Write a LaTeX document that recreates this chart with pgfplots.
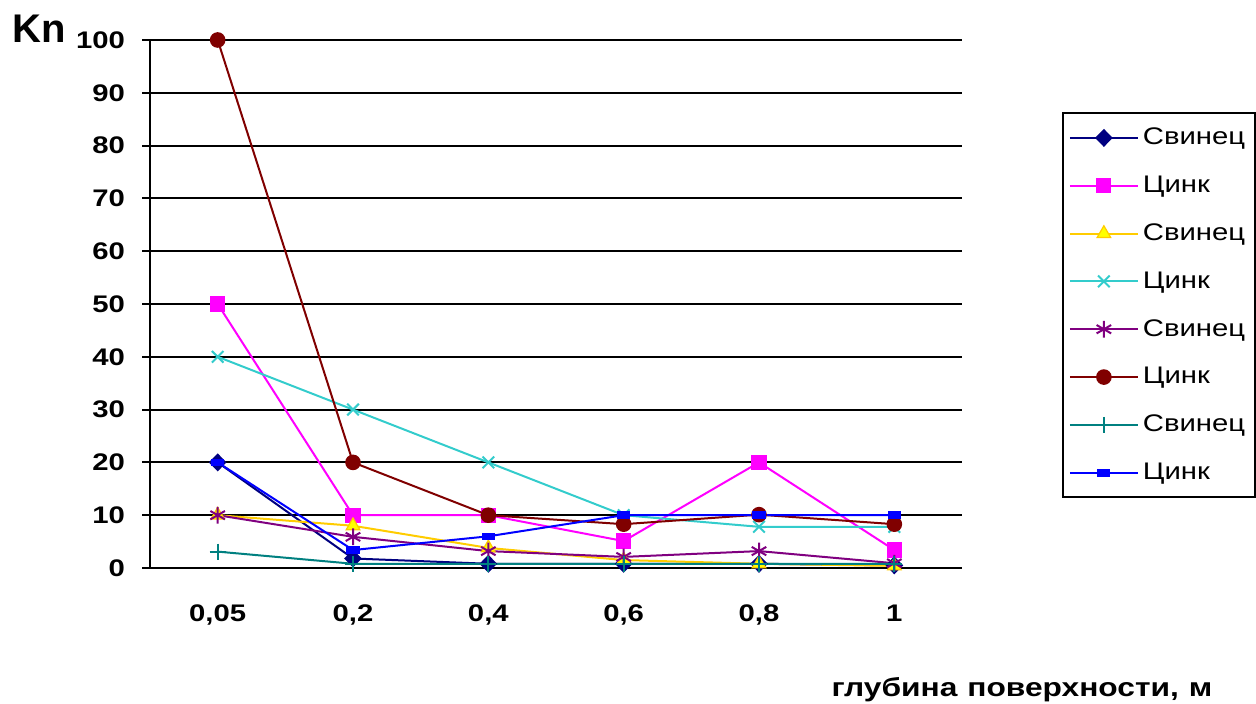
\documentclass[border=0pt]{standalone}
\usepackage{fontspec}
\setmainfont{Liberation Sans}
\newfontfamily\stretchfont[FakeStretch=1.22]{Liberation Sans}
\usepackage{pgfplots}
\pgfplotsset{compat=1.18}
\definecolor{cnavy}{RGB}{0,0,128}
\definecolor{cmag}{RGB}{255,0,255}
\definecolor{cgold}{RGB}{255,204,0}
\definecolor{cyel}{RGB}{255,255,0}
\definecolor{ccyan}{RGB}{51,204,204}
\definecolor{cpurp}{RGB}{128,0,128}
\definecolor{cdred}{RGB}{128,0,0}
\definecolor{cteal}{RGB}{0,128,128}
\definecolor{cblue}{RGB}{0,0,255}
\begin{document}
\begin{tikzpicture}
\useasboundingbox (0,0) rectangle (628pt,352pt);
\begin{axis}[
  at={(75pt,68pt)}, anchor=south west,
  scale only axis, width=406pt, height=264pt,
  xmin=-0.5, xmax=5.5, ymin=0, ymax=100,
  axis x line*=bottom, axis y line*=left,
  axis line style={line width=1pt,-},
  xtick={0,...,5},
  xticklabels={{0,05},{0,2},{0,4},{0,6},{0,8},{1}},
  x tick style={draw=none},
  minor xtick={-0.5,0.5,1.5,2.5,3.5,4.5,5.5},
  minor x tick style={line width=1pt,black},
  minor tick length=5pt,
  ytick={0,10,...,100},
  y tick style={line width=1pt,black},
  major tick length=4pt,
  tick align=outside,
  ymajorgrids, grid style={line width=1pt,black},
  /pgf/number format/assume math mode=true,
  tick label style={font=\fontsize{12}{14}\stretchfont\bfseries},
  xticklabel style={yshift=-11pt},
  yticklabel style={xshift=-5pt},
  legend style={at={(1.123,0.8636)}, anchor=north west, draw=black, line width=1pt,
    font=\fontsize{12}{14}\stretchfont, row sep=10.1pt, inner xsep=3pt, inner ysep=5.5pt,
    cells={anchor=west}},
  legend image code/.code={\draw[line width=1pt,mark repeat=2,mark phase=2] plot coordinates {(0pt,0pt) (17pt,0pt) (34pt,0pt)};},
  every axis plot/.append style={line width=1pt},
  clip=false,
]
\addplot[cnavy, mark=diamond*, mark size=3.8pt, mark options={fill=cnavy, xscale=1.3}] coordinates {(0,20) (1,1.8) (2,0.8) (3,0.8) (4,0.8) (5,0.5)};
\addlegendentry{Свинец}
\addplot[cmag, mark=square*, mark size=3.3pt, mark options={fill=cmag}] coordinates {(0,50) (1,10) (2,10) (3,5.1) (4,20) (5,3.4)};
\addlegendentry{Цинк}
\addplot[cgold, mark=triangle*, mark size=3.9pt, mark options={fill=cyel,draw=cgold,line width=0.6pt}] coordinates {(0,10) (1,8) (2,3.8) (3,1.5) (4,0.8) (5,0.4)};
\addlegendentry{Свинец}
\addplot[ccyan, mark=x, mark size=4.1pt] coordinates {(0,40) (1,30) (2,20) (3,10) (4,7.8) (5,7.8)};
\addlegendentry{Цинк}
\addplot[cpurp, mark=asterisk, mark size=4.2pt] coordinates {(0,10) (1,5.9) (2,3.2) (3,2.1) (4,3.2) (5,0.9)};
\addlegendentry{Свинец}
\addplot[cdred, mark=*, mark size=3.4pt, mark options={fill=cdred}] coordinates {(0,100) (1,20) (2,10) (3,8.3) (4,10.1) (5,8.3)};
\addlegendentry{Цинк}
\addplot[cteal, mark=+, mark size=4pt] coordinates {(0,3.1) (1,0.8) (2,0.8) (3,0.8) (4,0.8) (5,0.8)};
\addlegendentry{Свинец}
\addplot[cblue, mark=square*, mark size=2.8pt, mark options={fill=cblue, yscale=0.5}] coordinates {(0,20) (1,3.4) (2,6) (3,10) (4,10) (5,10)};
\addlegendentry{Цинк}
\end{axis}
\node[anchor=base west, font=\fontsize{20}{22}\selectfont\bfseries, inner sep=0pt] at (6pt,330.5pt) {Kn};
\node[anchor=base, font=\fontsize{13}{15}\stretchfont\bfseries, inner sep=0pt] at (511pt,3.5pt) {глубина\hspace{5pt}поверхности,\hspace{5pt}м};
\end{tikzpicture}
\end{document}
